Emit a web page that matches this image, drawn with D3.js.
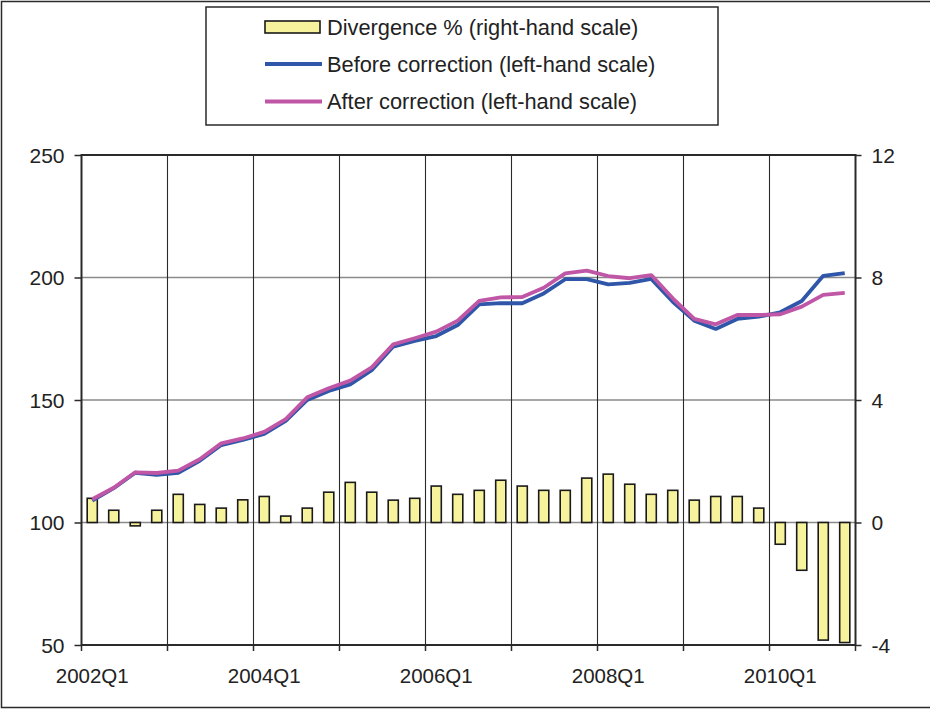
<!DOCTYPE html>
<html>
<head>
<meta charset="utf-8">
<script src="https://cdn.jsdelivr.net/npm/d3@7"></script>
<style>
  html, body { margin: 0; padding: 0; background: #fff; }
  svg { display: block; font-family: "Liberation Sans", Arial, sans-serif; }
</style>
</head>
<body>
<svg id="chart" width="930" height="709"></svg>
<script>
const quarters = [
  "2002Q1","2002Q2","2002Q3","2002Q4","2003Q1","2003Q2","2003Q3","2003Q4",
  "2004Q1","2004Q2","2004Q3","2004Q4","2005Q1","2005Q2","2005Q3","2005Q4",
  "2006Q1","2006Q2","2006Q3","2006Q4","2007Q1","2007Q2","2007Q3","2007Q4",
  "2008Q1","2008Q2","2008Q3","2008Q4","2009Q1","2009Q2","2009Q3","2009Q4",
  "2010Q1","2010Q2","2010Q3","2010Q4"
];
const beforeCorrection = [108.9, 114.0, 120.3, 119.4, 120.3, 125.2, 131.6, 133.7, 136.2, 141.5, 150.0, 153.7,
  156.4, 162.2, 171.8, 174.1, 176.1, 180.6, 189.0, 189.5, 189.5, 193.5, 199.3, 199.3,
  197.2, 197.8, 199.4, 190.1, 182.4, 179.0, 183.1, 184.0, 185.8, 190.4, 200.7, 201.8];
const afterCorrection = [109.5, 114.2, 120.5, 120.2, 121.2, 125.8, 132.3, 134.3, 137.0, 142.2, 151.1, 154.8,
  157.9, 163.3, 172.7, 175.2, 177.9, 182.4, 190.5, 191.9, 192.0, 195.8, 201.7, 202.8,
  200.6, 199.7, 201.0, 191.5, 183.1, 180.9, 184.7, 184.7, 185.0, 188.1, 192.9, 193.7];
const divergence = [0.79, 0.40, -0.11, 0.40, 0.92, 0.59, 0.47, 0.74, 0.85, 0.21, 0.47, 0.99,
  1.31, 0.99, 0.73, 0.79, 1.19, 0.92, 1.05, 1.38, 1.19, 1.05, 1.05, 1.45,
  1.58, 1.25, 0.92, 1.05, 0.73, 0.85, 0.85, 0.47, -0.71, -1.56, -3.84, -3.92];
const leftTicks = [50, 100, 150, 200, 250];
const rightTicks = [-4, 0, 4, 8, 12];
const xLabels = ["2002Q1","2004Q1","2006Q1","2008Q1","2010Q1"];
const yearStarts = ["2002Q1","2003Q1","2004Q1","2005Q1","2006Q1","2007Q1","2008Q1","2009Q1","2010Q1"];
const legendLabels = ["Divergence % (right-hand scale)", "Before correction (left-hand scale)", "After correction (left-hand scale)"];

const colors = { bar: "#F7F39C", before: "#2F56A8", after: "#C056A6", text: "#222", grid: "#8a8a8a", dark: "#2a2a2a" };

const svg = d3.select("#chart");
const L = 81.5, R = 855.5, T = 155, B = 645;

// outer border
svg.append("rect").attr("x", 1.5).attr("y", 1.5).attr("width", 931).attr("height", 706)
  .attr("fill", "none").attr("stroke", colors.dark).attr("stroke-width", 1.5);

const x = d3.scaleBand().domain(quarters).range([L, R]).padding(0);
const yL = d3.scaleLinear().domain([50, 250]).range([B, T]);
const yR = d3.scaleLinear().domain([-4, 12]).range([B, T]);

const g = svg.append("g");

// horizontal gridlines
g.selectAll(".hg").data([100, 150, 200]).enter().append("line")
  .attr("x1", L).attr("x2", R).attr("y1", d => yL(d)).attr("y2", d => yL(d))
  .attr("stroke", colors.grid).attr("stroke-width", 1.5);

// vertical gridlines
g.selectAll(".vg").data(yearStarts.slice(1)).enter().append("line")
  .attr("x1", d => x(d)).attr("x2", d => x(d)).attr("y1", T).attr("y2", B)
  .attr("stroke", colors.dark).attr("stroke-width", 1.1);

// bars
const bw = x.bandwidth() * 0.47;
g.selectAll(".bar").data(divergence).enter().append("rect")
  .attr("x", (d, i) => x(quarters[i]) + x.bandwidth() / 2 - bw / 2)
  .attr("width", bw)
  .attr("y", d => Math.min(yR(d), yR(0)))
  .attr("height", d => Math.abs(yR(d) - yR(0)))
  .attr("fill", colors.bar).attr("stroke", "#1a1a1a").attr("stroke-width", 1.6);

// lines
const lineGen = d3.line().x((d, i) => x(quarters[i]) + x.bandwidth() / 2).y(d => yL(d));
g.append("path").datum(beforeCorrection).attr("d", lineGen)
  .attr("fill", "none").attr("stroke", colors.before).attr("stroke-width", 3.8).attr("stroke-linejoin", "round");
g.append("path").datum(afterCorrection).attr("d", lineGen)
  .attr("fill", "none").attr("stroke", colors.after).attr("stroke-width", 3.8).attr("stroke-linejoin", "round");

// frame
g.append("rect").attr("x", L).attr("y", T).attr("width", R - L).attr("height", B - T)
  .attr("fill", "none").attr("stroke", colors.dark).attr("stroke-width", 2);

// left axis
const leftAxis = d3.axisLeft(yL).tickValues(leftTicks).tickSize(7).tickPadding(10).tickFormat(d => String(d));
const la = svg.append("g").attr("transform", `translate(${L},0)`).call(leftAxis);
la.select(".domain").remove();
la.selectAll("line").attr("stroke", colors.dark).attr("stroke-width", 1.5);
la.selectAll("text").attr("font-size", "21px").attr("fill", colors.text).attr("dy", "0.35em");

// right axis
const rightAxis = d3.axisRight(yR).tickValues(rightTicks).tickSize(6).tickPadding(10).tickFormat(d => String(d));
const ra = svg.append("g").attr("transform", `translate(${R},0)`).call(rightAxis);
ra.select(".domain").remove();
ra.selectAll("line").attr("stroke", colors.dark).attr("stroke-width", 1.5);
ra.selectAll("text").attr("font-size", "21px").attr("fill", colors.text).attr("dy", "0.35em");

// bottom ticks at year boundaries
const tickPos = yearStarts.map(q => x(q)).concat([R]);
svg.append("g").selectAll("line").data(tickPos).enter().append("line")
  .attr("x1", d => d).attr("x2", d => d).attr("y1", B).attr("y2", B + 6)
  .attr("stroke", colors.dark).attr("stroke-width", 1.5);
svg.append("g").selectAll("text").data(xLabels).enter().append("text")
  .attr("x", d => x(d) + x.bandwidth() / 2).attr("y", 683)
  .attr("text-anchor", "middle").attr("font-size", "20.5px").attr("fill", colors.text)
  .text(d => d);

// legend
const lg = svg.append("g");
lg.append("rect").attr("x", 206).attr("y", 7).attr("width", 512).attr("height", 118)
  .attr("fill", "#fff").attr("stroke", colors.dark).attr("stroke-width", 1.5);
const rowY = [27, 64, 101.5];
lg.append("rect").attr("x", 265).attr("y", rowY[0] - 6).attr("width", 55).attr("height", 12)
  .attr("fill", colors.bar).attr("stroke", "#1a1a1a").attr("stroke-width", 1.6);
lg.append("line").attr("x1", 265).attr("x2", 322).attr("y1", rowY[1]).attr("y2", rowY[1])
  .attr("stroke", colors.before).attr("stroke-width", 3.8);
lg.append("line").attr("x1", 265).attr("x2", 322).attr("y1", rowY[2]).attr("y2", rowY[2])
  .attr("stroke", colors.after).attr("stroke-width", 3.8);
lg.selectAll("text.lt").data(legendLabels).enter().append("text")
  .attr("x", 327).attr("y", (d, i) => rowY[i]).attr("dy", "0.36em")
  .attr("font-size", "21.8px").attr("fill", colors.text).text(d => d);
</script>
</body>
</html>
